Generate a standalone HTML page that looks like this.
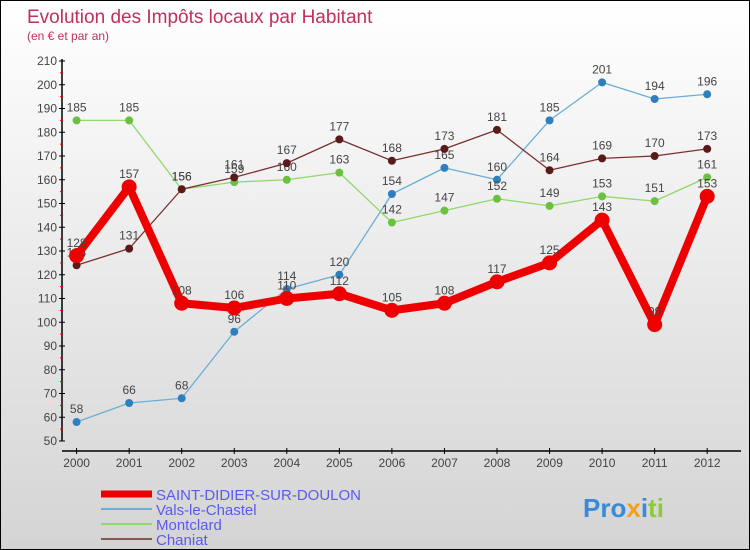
<!DOCTYPE html>
<html><head><meta charset="utf-8"><style>
body{margin:0}
#c{width:750px;height:550px;position:relative;box-sizing:border-box;border:1px solid #000;background:linear-gradient(#fff,#d4d4d4);font-family:"Liberation Sans",sans-serif;overflow:hidden}
svg text{font-family:"Liberation Sans",sans-serif}
</style></head><body>
<div id="c">
<svg id="s" width="750" height="550">
<text x="26" y="22" font-size="19" fill="#c0305a">Evolution des Impôts locaux par Habitant</text>
<text x="26" y="39" font-size="12" fill="#c0305a">(en € et par an)</text>
</svg>
</div>
<script>
const years=[2000,2001,2002,2003,2004,2005,2006,2007,2008,2009,2010,2011,2012];
const yTicks=[50,60,70,80,90,100,110,120,130,140,150,160,170,180,190,200,210];
const saint=[128,157,108,106,110,112,105,108,117,125,143,99,153];
const vals=[58,66,68,96,114,120,154,165,160,185,201,194,196];
const montclard=[185,185,156,159,160,163,142,147,152,149,153,151,161];
const chaniat=[124,131,156,161,167,177,168,173,181,164,169,170,173];
const seriesNames=["SAINT-DIDIER-SUR-DOULON","Vals-le-Chastel","Montclard","Chaniat"];
const s=document.getElementById('s');const NS='http://www.w3.org/2000/svg';
function X(i){return 75.6+i*52.55;}
function Y(v){return 440-(v-50)*(380/160);}
function el(t,a,p){const e=document.createElementNS(NS,t);for(const k in a)e.setAttribute(k,a[k]);(p||s).appendChild(e);return e;}
// axes
let ax=el('line',{x1:61,y1:58,x2:61,y2:440,stroke:'#000','stroke-width':1.5});


yTicks.forEach(v=>{
 el('line',{x1:58,x2:64,y1:Y(v),y2:Y(v),stroke:'#000'});
 if(v<210)el('line',{x1:59,x2:62,y1:Y(v+5),y2:Y(v+5),stroke:'#e00'});
 const t=el('text',{x:56,y:Y(v)+4,'font-size':12,'text-anchor':'end',fill:'#444'});t.textContent=v;
 
 
});
let xa=el('line',{x1:61,y1:450,x2:740,y2:450,stroke:'#000','stroke-width':1.5});


years.forEach((y,i)=>{
 el('line',{x1:X(i),x2:X(i),y1:447,y2:453,stroke:'#000'});
 const t=el('text',{x:X(i),y:466,'font-size':12,'text-anchor':'middle',fill:'#444'});t.textContent=y;
 
 
});
function series(data,color,dot,w,r,name){
 const g=el('g',{});
 
 
 el('polyline',{points:data.map((v,i)=>X(i)+','+Y(v)).join(' '),fill:'none',stroke:color,'stroke-width':w,'stroke-linejoin':'round'},g);
 data.forEach((v,i)=>{
  const c=el('circle',{cx:X(i),cy:Y(v),r:r,fill:dot,stroke:dot},g);
  
  
  const t=el('text',{x:X(i),y:Y(v)-9,'font-size':12,'text-anchor':'middle',fill:'#444'},g);t.textContent=v;
  
  
 });
}
series(vals,'#6aaed6','#2f7fbf',1.3,3.5,'series-vals-le-chastel');
series(montclard,'#8fd86a','#6cc040',1.3,3.5,'series-montclard');
series(chaniat,'#7a3030','#5a1a1a',1.3,3.5,'series-chaniat');
series(saint,'#ee0000','#ee0000',8,7,'series-saint-didier');
// legend
const lc=['#ee0000','#6aaed6','#8fd86a','#8a5555'],lw=[7,2,2,2];
seriesNames.forEach((n,i)=>{
 const y=493+i*15;
 el('line',{x1:100,x2:151,y1:y,y2:y,stroke:lc[i],'stroke-width':lw[i]});
 const t=el('text',{x:155,y:y+6,'font-size':15,fill:'#5a5aee'});t.textContent=n;
 
 
});
const lg=el('text',{x:582,y:516,'font-size':26,'font-weight':'bold',fill:'#3a8ad8'});
lg.innerHTML='<tspan fill="#3a8ad8">Pro</tspan><tspan fill="#f0a020">x</tspan><tspan fill="#3a8ad8">i</tspan><tspan fill="#8acb3a">ti</tspan>';


</script>
</body></html>
